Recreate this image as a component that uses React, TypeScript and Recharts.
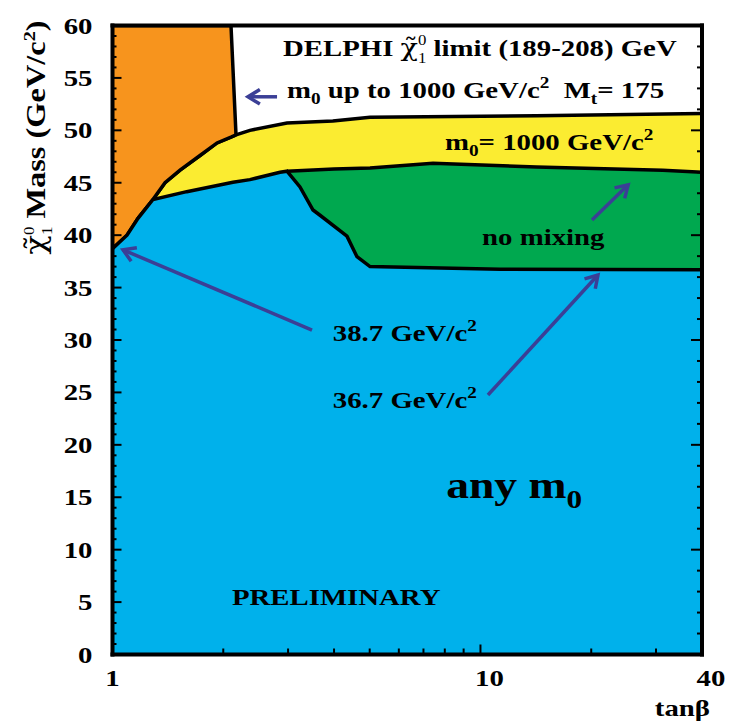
import React from "react";
import {
  ComposedChart,
  Area,
  XAxis,
  YAxis,
  ReferenceLine,
  ReferenceDot,
} from "recharts";

const FONT = "'Liberation Serif', 'Times New Roman', serif";
const STRETCH = 1.2;
const ARROW = "#3b3f96";

const ORANGE = "#f7941d";
const YELLOW = "#fbec31";
const GREEN = "#00a84f";
const BLUE = "#00b1eb";

// axes
const tanbTicks = [1, 2, 3, 4, 5, 6, 7, 8, 9, 10, 20, 30, 40];
const tanbLabels = [1, 10, 40];
const massTicksLeft = Array.from({ length: 61 }, (_, i) => i);
const massTicksRight = Array.from({ length: 31 }, (_, i) => i * 2);

// top of the "any m0" excluded region (blue)
const anyM0Edge = [
  { tanb: 1.0, m: 38.7 },
  { tanb: 1.095, m: 40.0 },
  { tanb: 1.173, m: 41.6 },
  { tanb: 1.288, m: 43.4 },
  { tanb: 1.591, m: 44.15 },
  { tanb: 2.125, m: 45.05 },
  { tanb: 2.363, m: 45.3 },
  { tanb: 2.853, m: 46.0 },
  { tanb: 2.98, m: 46.1 },
  { tanb: 3.232, m: 44.6 },
  { tanb: 3.507, m: 42.4 },
  { tanb: 3.664, m: 41.9 },
  { tanb: 4.337, m: 39.9 },
  { tanb: 4.617, m: 37.95 },
  { tanb: 5.01, m: 37.0 },
  { tanb: 11.3, m: 36.75 },
  { tanb: 40, m: 36.7 },
];

// top of the "no mixing" region (green)
const noMixingEdge = [
  { tanb: 2.98, m: 46.1 },
  { tanb: 4.0, m: 46.3 },
  { tanb: 5.01, m: 46.4 },
  { tanb: 7.43, m: 46.85 },
  { tanb: 14.2, m: 46.5 },
  { tanb: 31.3, m: 46.2 },
  { tanb: 40, m: 46.0 },
];

// top of the m0 = 1000 region (yellow)
const m01000Edge = [
  { tanb: 1.288, m: 43.4 },
  { tanb: 1.389, m: 45.0 },
  { tanb: 1.526, m: 46.2 },
  { tanb: 1.729, m: 47.6 },
  { tanb: 1.923, m: 48.8 },
  { tanb: 2.166, m: 49.56 },
  { tanb: 2.363, m: 50.0 },
  { tanb: 2.98, m: 50.7 },
  { tanb: 3.97, m: 50.9 },
  { tanb: 5.01, m: 51.25 },
  { tanb: 14.2, m: 51.4 },
  { tanb: 40, m: 51.6 },
];

// theoretically forbidden band (orange), [low, high]
const theoryBand = [
  { tanb: 1.0, m: [38.7, 60] },
  { tanb: 1.095, m: [40.0, 60] },
  { tanb: 1.173, m: [41.6, 60] },
  { tanb: 1.288, m: [43.4, 60] },
  { tanb: 1.389, m: [45.0, 60] },
  { tanb: 1.526, m: [46.2, 60] },
  { tanb: 1.729, m: [47.6, 60] },
  { tanb: 1.923, m: [48.8, 60] },
  { tanb: 2.099, m: [49.35, 60] },
  { tanb: 2.166, m: [49.56, 49.56] },
];

// annotation arrows: tail -> head (tanb, mass)
const arrows = [
  { from: [2.8, 53.2], to: [2.334, 53.2] },
  { from: [3.485, 30.95], to: [1.068, 38.6] },
  { from: [10.48, 24.75], to: [20.86, 36.2] },
  { from: [20.1, 41.45], to: [25.2, 44.8] },
];

function SText({ x, y, size = 24, anchor = "start", rotate = 0, children }: any) {
  return (
    <text
      transform={`translate(${x},${y}) rotate(${rotate}) scale(${STRETCH},1)`}
      fontFamily={FONT}
      fontWeight="bold"
      fontSize={size}
      textAnchor={anchor}
      fill="#000"
    >
      {children}
    </text>
  );
}

// chi-tilde with sub 1 / sup 0; leaves the pen 11px above the baseline
function Chi() {
  return (
    <>
      <tspan fontFamily="'DejaVu Serif', serif" fontWeight="normal">{"\u03C7\u0303"}</tspan>
      <tspan fontWeight="normal" fontSize={14} dy={7}>1</tspan>
      <tspan fontWeight="normal" fontSize={14} dx={-7} dy={-18}>0</tspan>
    </>
  );
}

const notes = [
  {
    at: [2.906, 57.1],
    body: (
      <>
        {"DELPHI "}
        <Chi />
        <tspan dy={11}> limit (189-208) GeV</tspan>
      </>
    ),
  },
  {
    at: [2.98, 53.1],
    body: (
      <>
        m<tspan fontSize={16} dy={6}>0</tspan>
        <tspan dy={-6}> up to 1000 GeV/c</tspan>
        <tspan fontSize={16} dy={-10}>2</tspan>
        <tspan dy={10}>{"\u00A0 M"}</tspan>
        <tspan fontSize={16} dy={6}>t</tspan>
        <tspan dy={-6}>= 175</tspan>
      </>
    ),
  },
  {
    at: [8.01, 48.1],
    body: (
      <>
        m<tspan fontSize={16} dy={6}>0</tspan>
        <tspan dy={-6}>= 1000 GeV/c</tspan>
        <tspan fontSize={16} dy={-10}>2</tspan>
      </>
    ),
  },
  { at: [10.1, 39.06], body: <>no mixing</> },
  {
    at: [3.97, 29.93],
    body: (
      <>
        38.7 GeV/c<tspan fontSize={16} dy={-10}>2</tspan>
      </>
    ),
  },
  {
    at: [3.97, 23.5],
    body: (
      <>
        36.7 GeV/c<tspan fontSize={16} dy={-10}>2</tspan>
      </>
    ),
  },
  {
    at: [8.07, 14.93],
    size: 38,
    body: (
      <>
        any m<tspan fontSize={26} dy={10}>0</tspan>
      </>
    ),
  },
  { at: [2.111, 4.72], body: <>PRELIMINARY</> },
];

function ArrowShape(p: any) {
  const { x1, y1, x2, y2 } = p;
  const a = Math.atan2(y2 - y1, x2 - x1);
  const L = 14;
  const s = 0.55;
  const ax = x2 - L * Math.cos(a - s);
  const ay = y2 - L * Math.sin(a - s);
  const bx = x2 - L * Math.cos(a + s);
  const by = y2 - L * Math.sin(a + s);
  return (
    <g stroke={ARROW} strokeWidth={3.5} fill="none">
      <line x1={x1} y1={y1} x2={x2} y2={y2} />
      <polyline points={`${ax},${ay} ${x2},${y2} ${bx},${by}`} />
    </g>
  );
}

function BottomTick({ x, y, payload }: any) {
  const v = payload.value;
  return (
    <g>
      <line x1={x} y1={y} x2={x} y2={y - (v === 10 ? 10 : 6)} stroke="#000" strokeWidth={2} />
      {tanbLabels.includes(v) && (
        <SText x={x + (v === 1 ? 0 : 9)} y={y + 31} anchor="middle">
          {v}
        </SText>
      )}
    </g>
  );
}

function TopTick({ x, y, payload }: any) {
  const v = payload.value;
  return <line x1={x} y1={y} x2={x} y2={y + (v === 10 ? 10 : 6)} stroke="#000" strokeWidth={2} />;
}

function LeftTick({ x, y, payload }: any) {
  const v = payload.value;
  const major = v % 5 === 0;
  return (
    <g>
      <line x1={x} y1={y} x2={x + (major ? 9 : 4)} y2={y} stroke="#000" strokeWidth={2} />
      {major && (
        <SText x={x - 20} y={y + 8} anchor="end">
          {v}
        </SText>
      )}
    </g>
  );
}

function RightTick({ x, y, payload }: any) {
  const v = payload.value;
  return <line x1={x} y1={y} x2={x - (v % 10 === 0 ? 11 : 5)} y2={y} stroke="#000" strokeWidth={2} />;
}

const frame = { stroke: "#000", strokeWidth: 4, strokeLinecap: "square" };

export default function App() {
  return (
    <ComposedChart
      width={727}
      height={716}
      margin={{ top: 16.5, right: 32, bottom: 68.5, left: 103.5 }}
    >
      <Area
        data={m01000Edge}
        dataKey="m"
        type="linear"
        fill={YELLOW}
        fillOpacity={1}
        stroke="#000"
        strokeWidth={3.5}
        baseValue={0}
        dot={false}
        activeDot={false}
        isAnimationActive={false}
      />
      <Area
        data={theoryBand}
        dataKey="m"
        type="linear"
        fill={ORANGE}
        fillOpacity={1}
        stroke="#000"
        strokeWidth={3.5}
        dot={false}
        activeDot={false}
        isAnimationActive={false}
      />
      <Area
        data={noMixingEdge}
        dataKey="m"
        type="linear"
        fill={GREEN}
        fillOpacity={1}
        stroke="#000"
        strokeWidth={3.5}
        baseValue={0}
        dot={false}
        activeDot={false}
        isAnimationActive={false}
      />
      <Area
        data={anyM0Edge}
        dataKey="m"
        type="linear"
        fill={BLUE}
        fillOpacity={1}
        stroke="#000"
        strokeWidth={3.5}
        baseValue={0}
        dot={false}
        activeDot={false}
        isAnimationActive={false}
      />

      {arrows.map((a, i) => (
        <ReferenceLine
          key={i}
          segment={[
            { x: a.from[0], y: a.from[1] },
            { x: a.to[0], y: a.to[1] },
          ]}
          shape={ArrowShape}
        />
      ))}

      {notes.map((n, i) => (
        <ReferenceDot
          key={i}
          x={n.at[0]}
          y={n.at[1]}
          r={0}
          shape={(p: any) => (
            <SText x={p.cx} y={p.cy} size={n.size ?? 24}>
              {n.body}
            </SText>
          )}
        />
      ))}

      <XAxis
        dataKey="tanb"
        type="number"
        scale="log"
        domain={[1, 40]}
        allowDataOverflow
        ticks={tanbTicks}
        interval={0}
        height={1}
        tickSize={0}
        tickMargin={0}
        tickLine={false}
        axisLine={frame}
        tick={BottomTick}
        label={(p: any) => {
          const vb = p.viewBox;
          return (
            <SText x={vb.x + vb.width + 8} y={vb.y + 61} anchor="end">
              tan{"\u03B2"}
            </SText>
          );
        }}
      />
      <XAxis
        xAxisId="top"
        orientation="top"
        type="number"
        scale="log"
        domain={[1, 40]}
        allowDataOverflow
        ticks={tanbTicks}
        interval={0}
        height={1}
        tickSize={0}
        tickMargin={0}
        tickLine={false}
        axisLine={frame}
        tick={TopTick}
      />
      <YAxis
        type="number"
        domain={[0, 60]}
        allowDataOverflow
        ticks={massTicksLeft}
        interval={0}
        width={1}
        tickSize={0}
        tickMargin={0}
        tickLine={false}
        axisLine={frame}
        tick={LeftTick}
        label={(p: any) => {
          const vb = p.viewBox;
          return (
            <SText x={vb.x - 67} y={vb.y + 112} rotate={-90} anchor="middle" size={27}>
              <Chi />
              <tspan dy={11}> Mass (GeV/c</tspan>
              <tspan fontSize={17} dy={-10}>2</tspan>
              <tspan dy={10}>)</tspan>
            </SText>
          );
        }}
      />
      <YAxis
        yAxisId="right"
        orientation="right"
        type="number"
        domain={[0, 60]}
        allowDataOverflow
        ticks={massTicksRight}
        interval={0}
        width={1}
        tickSize={0}
        tickMargin={0}
        tickLine={false}
        axisLine={frame}
        tick={RightTick}
      />
    </ComposedChart>
  );
}
